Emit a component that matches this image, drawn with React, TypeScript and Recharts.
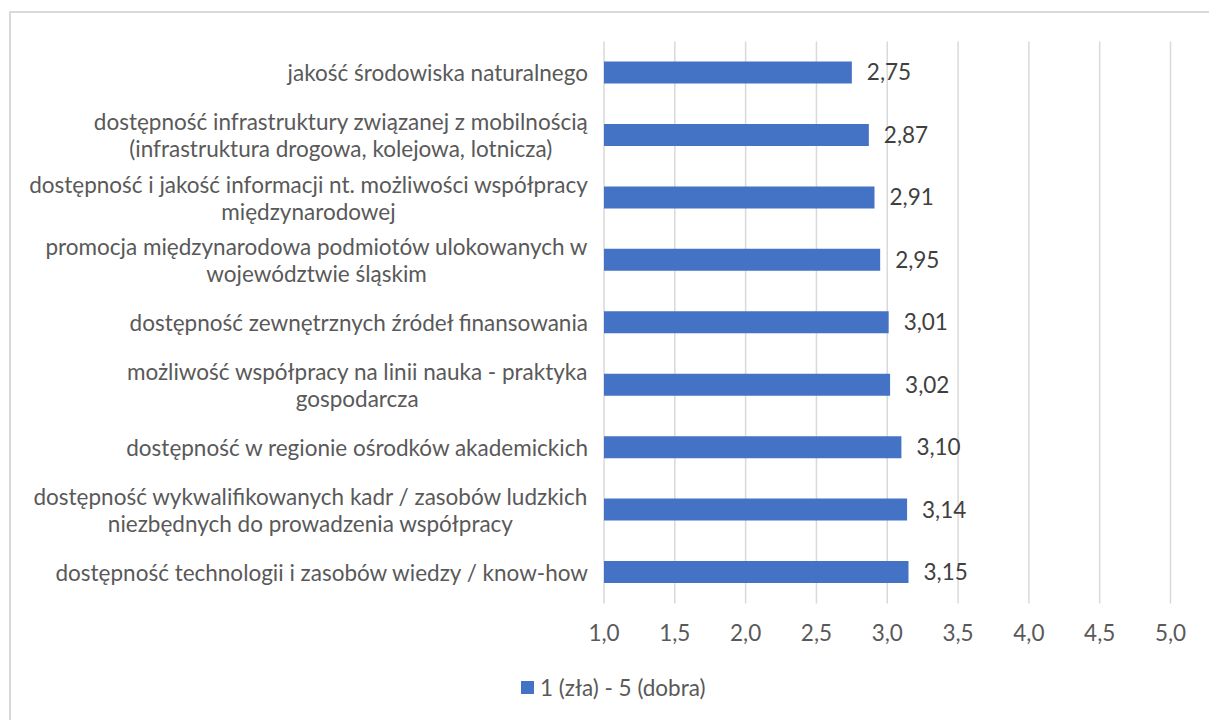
import React from 'react';
import {
  BarChart,
  Bar,
  XAxis,
  YAxis,
  CartesianGrid,
  LabelList,
  Legend,
} from 'recharts';

const CATEGORIES: string[] = [
  'jakość środowiska naturalnego',
  'dostępność infrastruktury związanej z mobilnością\n(infrastruktura drogowa, kolejowa, lotnicza)',
  'dostępność i jakość informacji nt. możliwości współpracy\nmiędzynarodowej',
  'promocja międzynarodowa podmiotów ulokowanych w\nwojewództwie śląskim',
  'dostępność zewnętrznych źródeł finansowania',
  'możliwość współpracy na linii nauka - praktyka\ngospodarcza',
  'dostępność w regionie ośrodków akademickich',
  'dostępność wykwalifikowanych kadr / zasobów ludzkich\nniezbędnych do prowadzenia współpracy',
  'dostępność technologii i zasobów wiedzy / know-how',
];

const SCORES: number[] = [2.75, 2.87, 2.91, 2.95, 3.01, 3.02, 3.1, 3.14, 3.15];

const X_TICKS: number[] = [1, 1.5, 2, 2.5, 3, 3.5, 4, 4.5, 5];

const SERIES_NAME = '1 (zła) - 5 (dobra)';

const FONT = 'Lato, "Open Sans", sans-serif';
const FONT_SIZE = 22.5;
const TEXT = '#595959';
const BLUE = '#4472C4';

const data = CATEGORIES.map((name, i) => ({ name, value: SCORES[i] }));

const comma = (v: number, digits: number) => v.toFixed(digits).replace('.', ',');

let measureCtx: CanvasRenderingContext2D | null = null;
function textWidth(s: string): number {
  if (!measureCtx) {
    measureCtx = document.createElement('canvas').getContext('2d');
  }
  if (!measureCtx) return s.length * FONT_SIZE * 0.5;
  measureCtx.font = `${FONT_SIZE}px ${FONT}`;
  return measureCtx.measureText(s).width;
}

// multi-line labels: block right aligned, lines centred inside the block
function CategoryTick(props: any) {
  const { x, y, payload } = props;
  const lines: string[] = String(payload.value).split('\n');
  const lineH = 27;
  const maxW = Math.max(...lines.map(textWidth));
  const cx = x - maxW / 2;
  const startY = y - ((lines.length - 1) * lineH) / 2;
  return (
    <g>
      {lines.map((line, i) => (
        <text
          key={i}
          x={lines.length > 1 ? cx : x}
          y={startY + i * lineH}
          textAnchor={lines.length > 1 ? 'middle' : 'end'}
          dominantBaseline="central"
          fill={TEXT}
          fontSize={FONT_SIZE}
          fontFamily={FONT}
        >
          {line}
        </text>
      ))}
    </g>
  );
}

function LegendContent() {
  return (
    <div
      style={{
        paddingTop: 23,
        display: 'flex',
        justifyContent: 'center',
        alignItems: 'center',
        fontFamily: FONT,
        fontSize: FONT_SIZE,
        color: TEXT,
        lineHeight: '22px',
        transform: 'translateX(28px)',
      }}
    >
      <span
        style={{
          display: 'inline-block',
          width: 13,
          height: 13,
          background: BLUE,
          marginRight: 6,
        }}
      />
      <span>{SERIES_NAME}</span>
    </div>
  );
}

export default function App() {
  return (
    <div
      style={{
        position: 'absolute',
        left: 0,
        top: 0,
        width: 1209,
        height: 720,
        overflow: 'hidden',
        background: '#fff',
      }}
    >
      <div
        style={{
          position: 'absolute',
          left: 9,
          top: 11,
          width: 1300,
          height: 800,
          border: '2px solid #d9d9d9',
          boxSizing: 'border-box',
        }}
      />
      <div style={{ position: 'absolute', left: 0, top: 0 }}>
        <BarChart
          width={1209}
          height={720}
          data={data}
          layout="vertical"
          margin={{ top: 41.5, right: 38.5, bottom: 0, left: 0 }}
          barSize={22}
        >
          <CartesianGrid horizontal={false} stroke="#d9d9d9" strokeWidth={1.5} />
          <XAxis
            type="number"
            domain={[1, 5]}
            ticks={X_TICKS}
            tickFormatter={(v: number) => comma(v, 1)}
            axisLine={false}
            tickLine={false}
            tickMargin={16}
            height={50}
            tick={{ fill: TEXT, fontSize: FONT_SIZE, fontFamily: FONT }}
          />
          <YAxis
            type="category"
            dataKey="name"
            width={604}
            axisLine={false}
            tickLine={false}
            tickMargin={10}
            interval={0}
            tick={<CategoryTick />}
          />
          <Legend
            verticalAlign="bottom"
            height={66.5}
            content={<LegendContent />}
          />
          <Bar dataKey="value" name={SERIES_NAME} fill={BLUE} isAnimationActive={false}>
            <LabelList
              dataKey="value"
              position="right"
              offset={15}
              formatter={(v: any) => comma(Number(v), 2)}
              fill="#404040"
              fontSize={FONT_SIZE}
              fontFamily={FONT}
            />
          </Bar>
        </BarChart>
      </div>
    </div>
  );
}
